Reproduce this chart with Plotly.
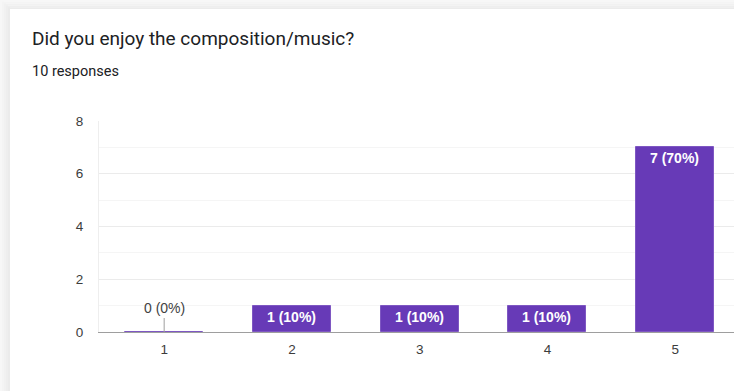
import plotly.graph_objects as go

# Survey results
question = "Did you enjoy the composition/music?"
ratings = ["1", "2", "3", "4", "5"]
counts = [0, 1, 1, 1, 7]
total_responses = 10

W, H = 734, 391
M_L, M_R, M_T, M_B = 99, 0, 121, 59
PW = W - M_L - M_R
PH = H - M_T - M_B

SANS = "Liberation Sans, Arial, sans-serif"
HEAD = "Roboto, Arial, sans-serif"


def px(x):
    return (x - M_L) / PW


def py(y):
    return (H - M_B - y) / PH


x_pos = [int(r) for r in ratings]
labels = [f"{c} ({round(100 * c / total_responses)}%)" for c in counts]
bar_text = [lab if c > 0 else "" for lab, c in zip(labels, counts)]

fig = go.Figure()
fig.add_trace(go.Bar(
    x=x_pos,
    y=counts,
    width=0.61,
    marker=dict(color="#673ab7", line=dict(color="#7e57c2", width=1)),
    text=bar_text,
    textposition="inside",
    insidetextanchor="end",
    textangle=0,
    textfont=dict(family=SANS, size=14, color="white", weight="bold"),
    cliponaxis=False,
    hoverinfo="skip",
))

# Zero-valued bars get their label above the axis with a short stem
annotations = []
for x, c, lab in zip(x_pos, counts, labels):
    if c == 0:
        annotations.append(dict(
            x=x, y=0, xref="x", yref="y", text=lab,
            showarrow=True, arrowhead=0, arrowwidth=1, arrowcolor="#9e9e9e",
            ax=0, ay=-14, yanchor="bottom",
            font=dict(family=SANS, size=14, color="#424242"),
        ))

annotations.append(dict(
    x=px(30), y=py(38), xref="paper", yref="paper", xanchor="left", yanchor="middle",
    text=question, showarrow=False,
    font=dict(family=HEAD, size=19, color="#202124"),
))
annotations.append(dict(
    x=px(30), y=py(71), xref="paper", yref="paper", xanchor="left", yanchor="middle",
    text=f"{total_responses} responses", showarrow=False,
    font=dict(family=HEAD, size=14.5, color="#202124"),
))

# Card shadow along the top and left edges
shapes = []
shade = ["#f7f7f7", "#f4f4f4", "#f1f1f1", "#eeeeee", "#ebebeb"]
n = len(shade)
for i, col in enumerate(shade):
    t0 = 9 * i / n
    t1 = 9 * (i + 1) / n
    shapes.append(dict(type="rect", xref="paper", yref="paper", layer="below",
                       x0=px(10 * i / n), x1=px(W), y0=py(t0), y1=py(t1),
                       fillcolor=col, line=dict(width=0)))
    shapes.append(dict(type="rect", xref="paper", yref="paper", layer="below",
                       x0=px(10 * i / n), x1=px(10 * (i + 1) / n), y0=py(t0), y1=py(H),
                       fillcolor=col, line=dict(width=0)))

fig.update_layout(
    width=W, height=H,
    margin=dict(l=M_L, r=M_R, t=M_T, b=M_B),
    paper_bgcolor="white",
    plot_bgcolor="white",
    showlegend=False,
    bargap=0,
    annotations=annotations,
    shapes=shapes,
    font=dict(family=SANS, size=13, color="#444444"),
)

fig.update_xaxes(
    range=[0.49, 5.46],
    tickvals=x_pos, ticktext=ratings,
    showgrid=False, zeroline=False,
    showline=True, linecolor="#9e9e9e", linewidth=1,
    ticks="", ticklabelstandoff=5,
    tickfont=dict(family=SANS, size=13.5, color="#3c3c3c"),
    fixedrange=True,
)
fig.update_yaxes(
    range=[0, 8], dtick=2,
    showgrid=True, gridcolor="#ebebeb", gridwidth=1,
    minor=dict(dtick=1, showgrid=True, gridcolor="#f5f5f5"),
    zeroline=False,
    showline=True, linecolor="#eeeeee", linewidth=1,
    ticks="", ticklabelstandoff=12,
    tickfont=dict(family=SANS, size=13.5, color="#3c3c3c"),
    fixedrange=True,
)

fig.write_html("out.html")
